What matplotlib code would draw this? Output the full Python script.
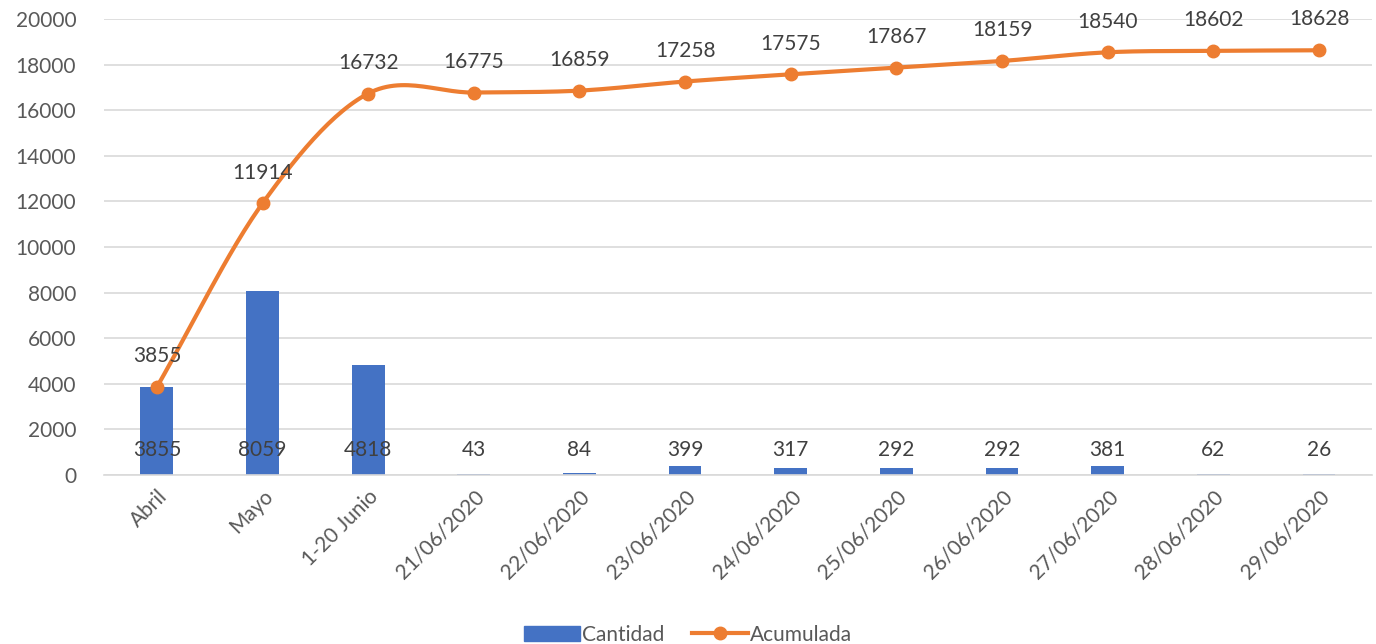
import numpy as np
import matplotlib.pyplot as plt
from matplotlib.lines import Line2D
from matplotlib.patches import Patch

plt.rcParams['font.family'] = ['Lato', 'DejaVu Sans']

categorias = ['Abril', 'Mayo', '1-20 Junio', '21/06/2020', '22/06/2020', '23/06/2020',
              '24/06/2020', '25/06/2020', '26/06/2020', '27/06/2020', '28/06/2020', '29/06/2020']
cantidad = [3855, 8059, 4818, 43, 84, 399, 317, 292, 292, 381, 62, 26]
acumulada = [3855, 11914, 16732, 16775, 16859, 17258, 17575, 17867, 18159, 18540, 18602, 18628]

azul = '#4472C4'
naranja = '#ED7D31'
gris = '#595959'


def curva_suave(x, y, n=30):
    # Catmull-Rom through the points, like a smoothed line in a spreadsheet
    x = np.asarray(x, float)
    y = np.asarray(y, float)
    px = np.concatenate([[2 * x[0] - x[1]], x, [2 * x[-1] - x[-2]]])
    py = np.concatenate([[2 * y[0] - y[1]], y, [2 * y[-1] - y[-2]]])
    xs, ys = [], []
    t = np.linspace(0, 1, n)
    for i in range(1, len(px) - 2):
        for p, out in ((px, xs), (py, ys)):
            p0, p1, p2, p3 = p[i - 1], p[i], p[i + 1], p[i + 2]
            m1 = (p2 - p0) / 2
            m2 = (p3 - p1) / 2
            h00 = 2 * t**3 - 3 * t**2 + 1
            h10 = t**3 - 2 * t**2 + t
            h01 = -2 * t**3 + 3 * t**2
            h11 = t**3 - t**2
            out.extend(h00 * p1 + h10 * m1 + h01 * p2 + h11 * m2)
    return np.array(xs), np.array(ys)


fig = plt.figure(figsize=(13.76, 6.44), dpi=100)
ax = fig.add_axes([0.0756, 0.2624, 0.9214, 0.7081])

x = np.arange(len(categorias))
ax.bar(x, cantidad, width=0.31, color=azul, zorder=2)

sx, sy = curva_suave(x, acumulada)
ax.plot(sx, sy, color=naranja, lw=3, zorder=3, solid_capstyle='round')
ax.plot(x, acumulada, 'o', color=naranja, ms=9, zorder=4)

for xi, v in zip(x, cantidad):
    ax.text(xi, 1100, str(v), ha='center', va='center', fontsize=15, color='#404040', zorder=5)
for xi, v in zip(x, acumulada):
    ax.text(xi, v + 1350, str(v), ha='center', va='center', fontsize=15, color='#404040', zorder=5)

ax.set_xlim(-0.5, len(categorias) - 0.5)
ax.set_ylim(0, 20000)
ax.set_yticks(range(0, 20001, 2000))
ax.yaxis.grid(True, color='#D9D9D9', lw=1.2)
ax.set_axisbelow(True)
for s in ['top', 'right', 'left']:
    ax.spines[s].set_visible(False)
ax.spines['bottom'].set_color('#D9D9D9')
ax.spines['bottom'].set_linewidth(1.2)
ax.tick_params(axis='both', length=0, colors=gris, labelsize=15)
ax.tick_params(axis='y', pad=20)
ax.set_xticks(x)
ax.set_xticklabels(categorias, rotation=45, ha='right', rotation_mode='anchor')
ax.tick_params(axis='x', pad=8)

handles = [Patch(color=azul, label='Cantidad'),
           Line2D([], [], color=naranja, lw=3, marker='o', ms=9, label='Acumulada')]
fig.legend(handles=handles, loc='lower center', bbox_to_anchor=(0.5, -0.03), ncol=2, frameon=False,
           fontsize=15, labelcolor=gris, handlelength=2.7, handletextpad=0.1, columnspacing=1.3)

fig.savefig('out.png', dpi=100)
